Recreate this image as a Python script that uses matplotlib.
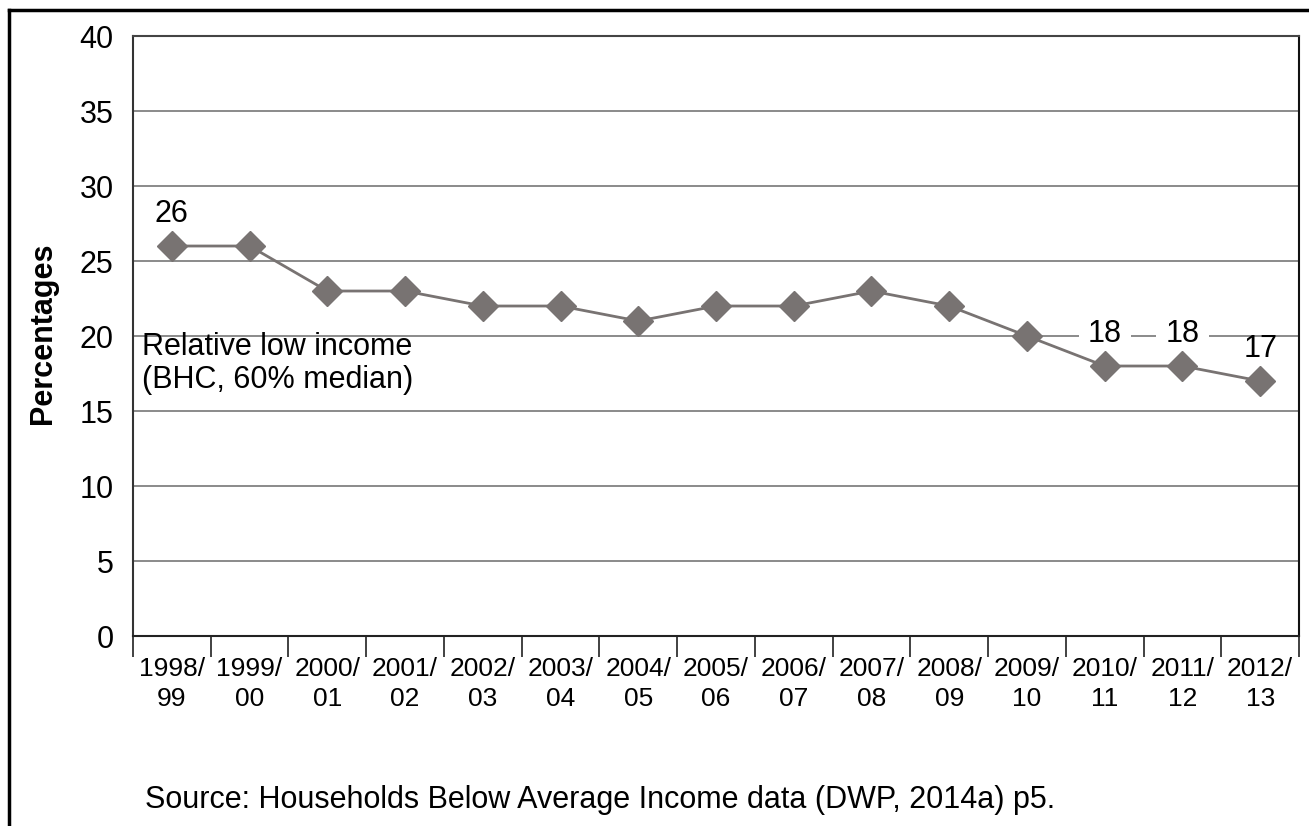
import matplotlib.pyplot as plt
from matplotlib.lines import Line2D

plt.rcParams["font.family"] = ["Liberation Sans", "DejaVu Sans"]

# 相対的低所得の割合（BHC、中央値の60%）
years = [
    "1998/\n99", "1999/\n00", "2000/\n01", "2001/\n02", "2002/\n03",
    "2003/\n04", "2004/\n05", "2005/\n06", "2006/\n07", "2007/\n08",
    "2008/\n09", "2009/\n10", "2010/\n11", "2011/\n12", "2012/\n13",
]
values = [26, 26, 23, 23, 22, 22, 21, 22, 22, 23, 22, 20, 18, 18, 17]
labelled = [0, 12, 13, 14]
boxed = [12, 13]

grey = "#787372"

fig = plt.figure(figsize=(13.09, 8.26), dpi=100)
ax = fig.add_axes([0.1016, 0.23, 0.8908, 0.7264])

x = list(range(len(years)))
ax.plot(x, values, color=grey, lw=2, marker="D", markersize=15,
        markerfacecolor=grey, markeredgecolor=grey, zorder=3)

# ラベルの白背景はグリッド線だけを隠し、折れ線の下に置く
for i in labelled:
    box = None
    if i in boxed:
        box = dict(boxstyle="square,pad=0.3", fc="white", ec="none")
    ax.annotate(str(values[i]), (x[i], values[i]), xytext=(0, 23),
                textcoords="offset points", ha="center", va="center",
                fontsize=22, bbox=box, zorder=2)

ax.text(-0.38, 20.25, "Relative low income\n(BHC, 60% median)",
        fontsize=22, va="top", ha="left", linespacing=1.1, zorder=4)

ax.set_xlim(-0.5, len(years) - 0.5)
ax.set_ylim(0, 40)
ax.set_yticks(range(0, 41, 5))
ax.tick_params(axis="y", length=0, labelsize=22, pad=14)
ax.yaxis.grid(True, color="#8a8a8a", lw=1.4)
ax.set_axisbelow(True)

# 目盛りは区間の境界、ラベルは区間の中央
ax.set_xticks([i - 0.5 for i in range(len(years) + 1)])
ax.set_xticklabels([])
ax.set_xticks(x, minor=True)
ax.set_xticklabels(years, minor=True, fontsize=19, linespacing=1.3)
ax.tick_params(axis="x", which="major", direction="out", length=15,
               width=1.3, color="#333333")
ax.tick_params(axis="x", which="minor", length=0, pad=15)

for side in ["left", "bottom", "right", "top"]:
    ax.spines[side].set_linewidth(1.5)
ax.spines["top"].set_color("#444444")
ax.spines["left"].set_color("#333333")
ax.spines["right"].set_color("#111111")
ax.spines["bottom"].set_color("#222222")

fig.text(0.0325, 0.597, "Percentages", rotation=90, fontsize=22,
         fontweight="bold", ha="center", va="center")
fig.text(0.111, 0.031, "Source: Households Below Average Income data (DWP, 2014a) p5.",
         fontsize=22, ha="left", va="center")

# 外枠（上と左）
fig.add_artist(Line2D([0.0069, 1.0], [0.9879, 0.9879], color="black", lw=2.5,
                      transform=fig.transFigure))
fig.add_artist(Line2D([0.0069, 0.0069], [0.0, 0.9879], color="black", lw=2.5,
                      transform=fig.transFigure))

fig.savefig("out.png", dpi=100)
